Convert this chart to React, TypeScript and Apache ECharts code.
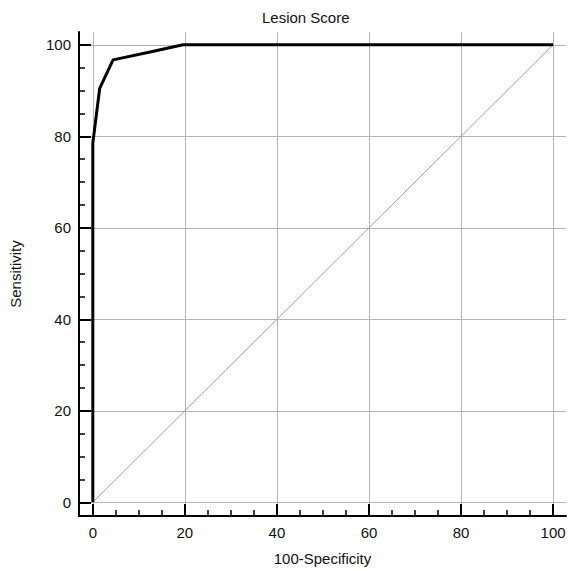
import React, { useEffect, useRef } from "react";
import * as echarts from "echarts";

const majorTicks = [0, 20, 40, 60, 80, 100];
const minorTicks = [5, 10, 15, 25, 30, 35, 45, 50, 55, 65, 70, 75, 85, 90, 95];
const rocX = [0, 0, 1.5, 4.4, 12.7, 19.6, 100];
const rocY = [0, 78.5, 90.5, 96.7, 98.5, 100, 100];
const diagX = [0, 100];
const diagY = [0, 100];

const FONT = "'Liberation Sans', Arial, sans-serif";

export default function App() {
  const ref = useRef<HTMLDivElement>(null);
  useEffect(() => {
    if (!ref.current) return;
    const chart = echarts.init(ref.current, undefined, { renderer: "svg" });
    const range = { min: -3, max: 102.8 };
    const labelStyle = { color: "#111", fontSize: 15, fontFamily: FONT };
    const majorAxis = (name: string, isX: boolean) => ({
      type: "value",
      ...range,
      position: isX ? "bottom" : "left",
      name,
      nameLocation: "middle",
      nameGap: isX ? 35 : 56,
      nameTextStyle: { color: "#111", fontSize: 15, fontFamily: FONT },
      axisLine: { show: true, onZero: false, lineStyle: { color: "#000", width: 2 } },
      axisTick: {
        show: true,
        inside: true,
        length: 12,
        customValues: majorTicks,
        lineStyle: { color: "#000", width: 2 },
      },
      axisLabel: { show: true, customValues: majorTicks, margin: isX ? 9 : 8, ...labelStyle },
      splitLine: { show: true, lineStyle: { color: "#b4b4b4", width: 1 } },
    });
    const minorAxis = (isX: boolean) => ({
      type: "value",
      ...range,
      position: isX ? "bottom" : "left",
      axisLine: { show: false, onZero: false },
      axisTick: {
        show: true,
        inside: true,
        length: 6,
        customValues: minorTicks,
        lineStyle: { color: "#000", width: 1.5 },
      },
      axisLabel: { show: false },
      splitLine: { show: false },
    });
    chart.setOption({
      animation: false,
      backgroundColor: "#fff",
      title: {
        text: "Lesion Score",
        left: 257,
        top: 5,
        textStyle: { color: "#111", fontSize: 15, fontWeight: "normal", fontFamily: FONT },
      },
      grid: { left: 79, right: 3, top: 32, bottom: 53, containLabel: false },
      xAxis: [majorAxis("100-Specificity", true), minorAxis(true)],
      yAxis: [majorAxis("Sensitivity", false), minorAxis(false)],
      series: [
        {
          type: "line",
          xAxisIndex: 0,
          yAxisIndex: 0,
          data: diagX.map((x, i) => [x, diagY[i]]),
          symbol: "none",
          lineStyle: { color: "#a0a0a0", width: 1 },
          silent: true,
        },
        {
          type: "line",
          xAxisIndex: 0,
          yAxisIndex: 0,
          data: rocX.map((x, i) => [x, rocY[i]]),
          symbol: "none",
          lineStyle: { color: "#000", width: 3, join: "round" },
          silent: true,
        },
      ],
    });
    return () => chart.dispose();
  }, []);
  return (
    <div
      ref={ref}
      style={{ position: "absolute", left: 0, top: 0, width: 569, height: 571 }}
    />
  );
}
